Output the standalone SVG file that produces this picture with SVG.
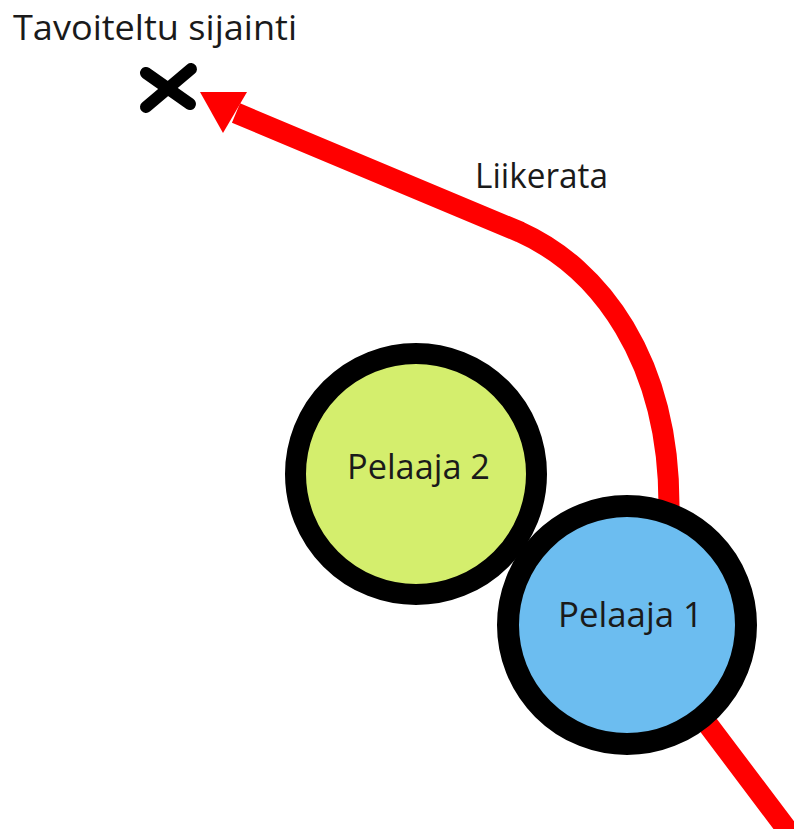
<svg xmlns="http://www.w3.org/2000/svg" width="794" height="829" viewBox="0 0 794 829">
  <style>
    .label { font-family: "Open Sans", "Noto Sans", "DejaVu Sans", sans-serif; font-size: 34px; fill: #1a1a1a; }
    .player { stroke: #000000; }
    .path { fill: none; stroke: #ff0000; stroke-width: 21; }
  </style>
  <rect width="794" height="829" fill="#ffffff"/>

  <!-- target location marker -->
  <g id="target">
    <path d="M146,73 L190,104 M191,69 L146,107" stroke="#000000" stroke-width="12" stroke-linecap="round" fill="none"/>
    <text class="label" x="13" y="40" textLength="284" lengthAdjust="spacingAndGlyphs">Tavoiteltu sijainti</text>
  </g>

  <!-- movement path -->
  <g id="connectors">
    <path class="path" d="M810,860 L700,714 C680,690 669,580 669,505 C669,360 600,268 520,232 L236,113"/>
    <polygon points="200,92 247,92 223,133" fill="#ff0000"/>
    <text class="label" x="475" y="188" textLength="133" lengthAdjust="spacingAndGlyphs">Liikerata</text>
  </g>

  <g id="pelaaja2">
    <circle class="player" cx="416" cy="474" r="120.5" fill="#d4ee6d" stroke-width="21"/>
    <text class="label" x="418.5" y="479" text-anchor="middle" textLength="143" lengthAdjust="spacingAndGlyphs">Pelaaja 2</text>
  </g>

  <g id="pelaaja1">
    <circle class="player" cx="627" cy="625" r="119" fill="#6cbdf0" stroke-width="22"/>
    <text class="label" x="630.5" y="627" text-anchor="middle" textLength="145" lengthAdjust="spacingAndGlyphs">Pelaaja 1</text>
  </g>
</svg>
